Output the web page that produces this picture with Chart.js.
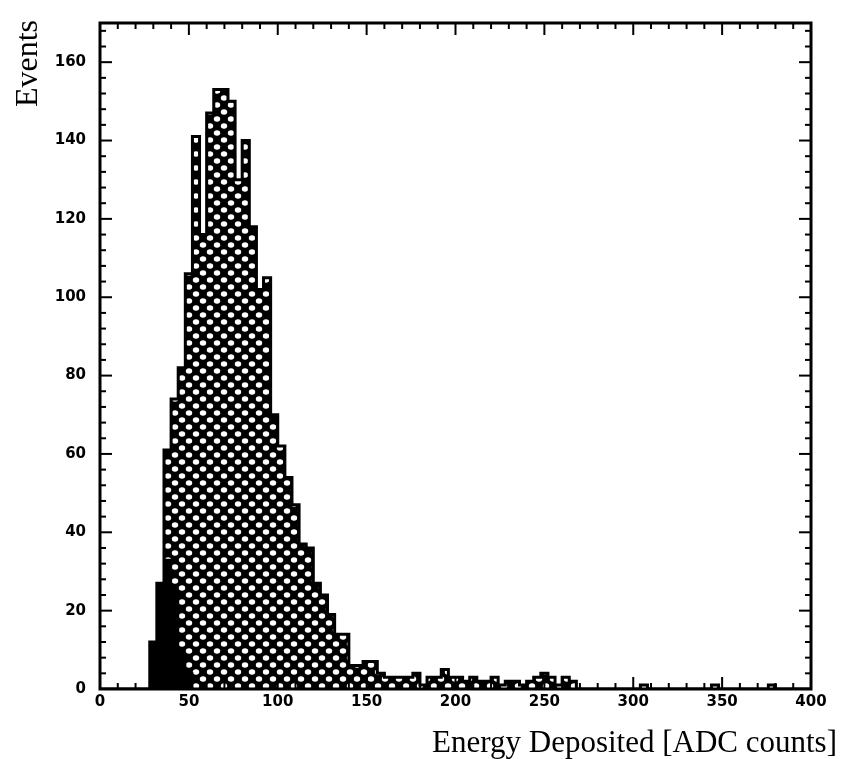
<!DOCTYPE html>
<html>
<head>
<meta charset="utf-8">
<script src="https://cdn.jsdelivr.net/npm/chart.js@4/dist/chart.umd.min.js"></script>
<style>html,body{margin:0;padding:0;background:#fff}</style>
</head>
<body>
<canvas id="c" width="850" height="759"></canvas>
<script>
// histogram, 4 ADC-count bins starting at 0
const binWidth=4;
const hatchedCounts=[0,0,0,0,0,0,0,12,27,61,74,82,106,141,116,147,153,153,150,130,
  140,118,102,105,70,62,54,47,37,36,27,24,19,14,14,6,6,7,7,4,
  3,3,3,3,4,1,3,3,5,3,3,2,3,2,2,3,1,2,2,1,
  2,3,4,3,1,3,2,0,0,0,0,0,0,0,0,0,1,0,0,0,
  0,0,0,0,0,0,1,0,0,0,0,0,0,0,1,0,0,0,0,0];
const blackStart=28;
const blackCounts=[12,27,33,25,9,4];
const xTicks=[0,50,100,150,200,250,300,350,400];
const yTicks=[0,20,40,60,80,100,120,140,160];
const xTitle='Energy Deposited [ADC counts]';
const yTitle='Events';

const ctx=document.getElementById('c').getContext('2d');
function hatch(){
  const s=14,c=document.createElement('canvas');c.width=s;c.height=s;
  const g=c.getContext('2d');
  g.fillStyle='#000';g.fillRect(0,0,s,s);g.fillStyle='#fff';
  [[s/2,s/2],[0,0],[s,0],[0,s],[s,s]].forEach(([x,y])=>{g.beginPath();g.ellipse(x,y,3.2,2.8,0,0,Math.PI*2);g.fill();});
  return ctx.createPattern(c,'repeat');
}
// step outline points at bin starts, closed at the last edge
const steps=(start,counts)=>counts.map((v,i)=>({x:start+i*binWidth,y:v})).concat([{x:start+counts.length*binWidth,y:0}]);

const frame={id:'frame',afterDraw(chart){
  const {ctx,chartArea:a,scales:{x,y}}=chart;
  ctx.save();ctx.strokeStyle='#000';ctx.lineWidth=2;
  const ln=(x1,y1,x2,y2)=>{ctx.beginPath();ctx.moveTo(x1,y1);ctx.lineTo(x2,y2);ctx.stroke();};
  for(let v=0;v<=400;v+=10){
    const p=x.getPixelForValue(v),L=v%50===0?12:6;
    ln(p,a.bottom,p,a.bottom-L);ln(p,a.top,p,a.top+L);
  }
  for(let v=0;v<=168;v+=4){
    const p=y.getPixelForValue(v),L=v%20===0?12:6;
    ln(a.left,p,a.left+L,p);ln(a.right,p,a.right-L,p);
  }
  ctx.lineWidth=3;ctx.strokeRect(a.left,a.top,a.right-a.left,a.bottom-a.top);
  ctx.fillStyle='#000';
  ctx.font='31px "Liberation Serif"';ctx.textAlign='right';ctx.textBaseline='alphabetic';
  ctx.fillText(xTitle,837,752);
  ctx.translate(37,20);ctx.rotate(-Math.PI/2);
  ctx.font='32px "Liberation Serif"';
  ctx.fillText(yTitle,0,0);
  ctx.restore();
}};

const tickFont={family:'"DejaVu Sans"',weight:'bold',size:15};
new Chart(ctx,{
  type:'line',
  data:{datasets:[
    {data:steps(blackStart,blackCounts),stepped:'before',fill:'origin',backgroundColor:'#000',borderColor:'#000',borderWidth:2,pointRadius:0},
    {data:steps(0,hatchedCounts),stepped:'before',fill:'origin',backgroundColor:hatch(),borderColor:'#000',borderWidth:3,pointRadius:0}
  ]},
  options:{
    responsive:false,animation:false,
    layout:{padding:{top:12,right:39,left:0,bottom:0}},
    plugins:{legend:{display:false},tooltip:{enabled:false}},
    scales:{
      x:{type:'linear',min:0,max:400,
        grid:{display:false,drawTicks:false},border:{display:false},
        afterBuildTicks:s=>{s.ticks=xTicks.map(v=>({value:v}));},
        afterFit:s=>{s.height=70;},
        ticks:{font:tickFont,color:'#000',padding:4,autoSkip:false,maxRotation:0}},
      y:{min:0,max:170,
        grid:{display:false,drawTicks:false},border:{display:false},
        afterBuildTicks:s=>{s.ticks=yTicks.map(v=>({value:v}));},
        afterFit:s=>{s.width=100;},
        ticks:{font:tickFont,color:'#000',padding:14}}
    }
  },
  plugins:[frame]
});
</script>
</body>
</html>
